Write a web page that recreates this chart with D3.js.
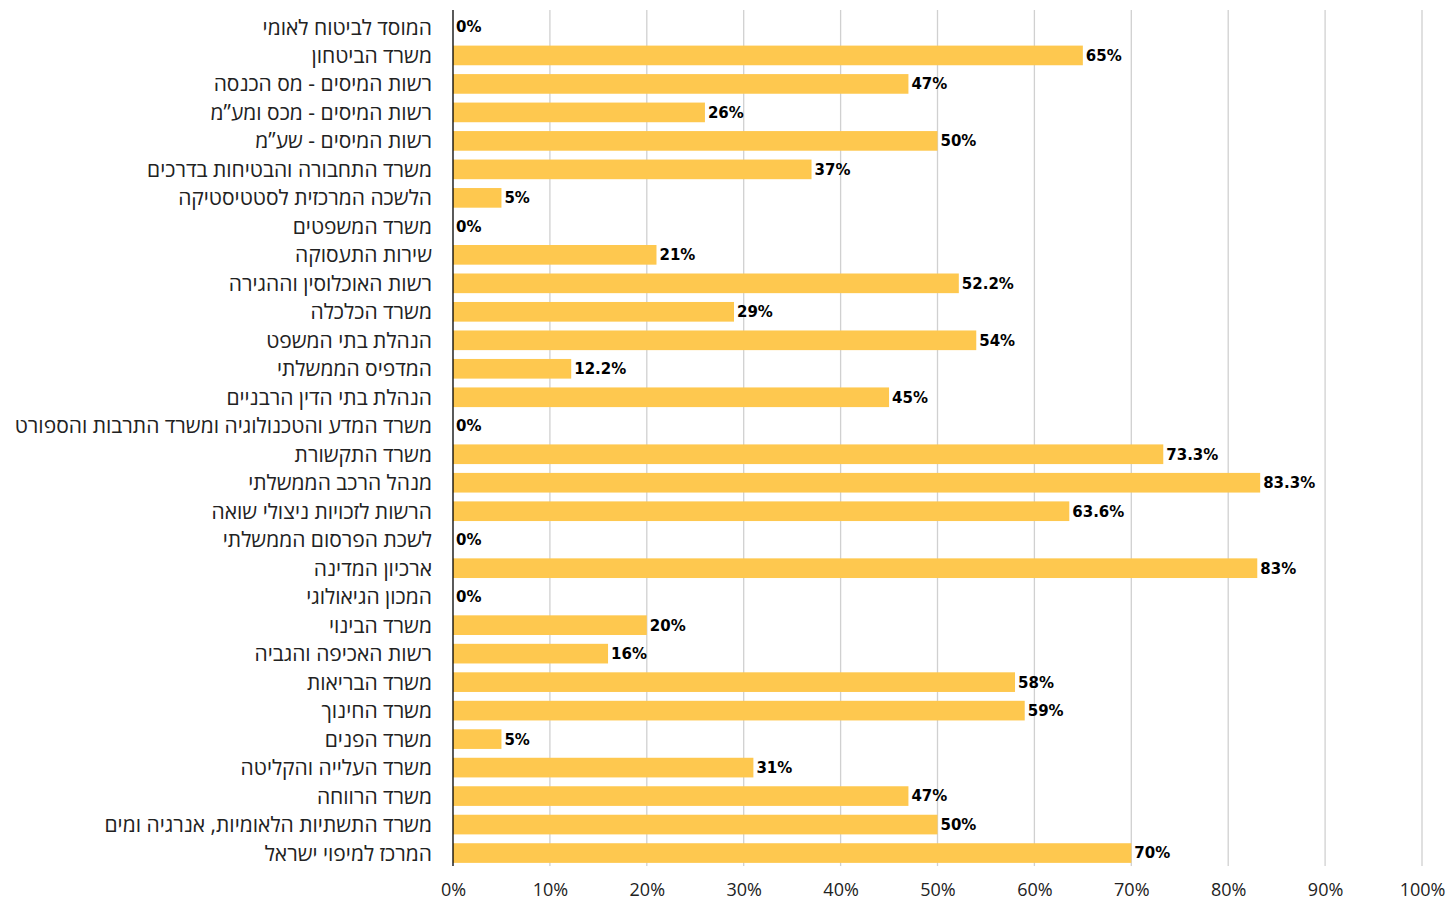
<!DOCTYPE html>
<html><head><meta charset="utf-8">
<script src="https://cdn.jsdelivr.net/npm/d3@7"></script>
<style>body{margin:0;background:#fff}</style>
</head><body><svg id="c" width="1449" height="901"></svg>
<script>
const categories = ["המוסד לביטוח לאומי","משרד הביטחון","רשות המיסים - מס הכנסה","רשות המיסים - מכס ומע”מ","רשות המיסים - שע”מ","משרד התחבורה והבטיחות בדרכים","הלשכה המרכזית לסטטיסטיקה","משרד המשפטים","שירות התעסוקה","רשות האוכלוסין וההגירה","משרד הכלכלה","הנהלת בתי המשפט","המדפיס הממשלתי","הנהלת בתי הדין הרבניים","משרד המדע והטכנולוגיה ומשרד התרבות והספורט","משרד התקשורת","מנהל הרכב הממשלתי","הרשות לזכויות ניצולי שואה","לשכת הפרסום הממשלתי","ארכיון המדינה","המכון הגיאולוגי","משרד הבינוי","רשות האכיפה והגביה","משרד הבריאות","משרד החינוך","משרד הפנים","משרד העלייה והקליטה","משרד הרווחה","משרד התשתיות הלאומיות, אנרגיה ומים","המרכז למיפוי ישראל"];
const values = [0,65,47,26,50,37,5,0,21,52.2,29,54,12.2,45,0,73.3,83.3,63.6,0,83,0,20,16,58,59,5,31,47,50,70];
const valueLabels = ["0%","65%","47%","26%","50%","37%","5%","0%","21%","52.2%","29%","54%","12.2%","45%","0%","73.3%","83.3%","63.6%","0%","83%","0%","20%","16%","58%","59%","5%","31%","47%","50%","70%"];
const ticks = [0,10,20,30,40,50,60,70,80,90,100];

const svg = d3.select("#c");
const x = d3.scaleLinear().domain([0,100]).range([453,1422]);
const y = d3.scaleBand().domain(categories).range([12.7,867.3]).paddingInner(0.31).paddingOuter(0.155);

svg.append("g").selectAll("line").data(ticks.slice(1)).join("line")
  .attr("x1",d=>x(d)).attr("x2",d=>x(d)).attr("y1",10).attr("y2",866)
  .attr("stroke","#d0d0d0").attr("stroke-width",1.3);

svg.append("g").selectAll("rect").data(values).join("rect")
  .attr("x",x(0)).attr("y",(d,i)=>y(categories[i]))
  .attr("width",d=>x(d)-x(0)).attr("height",y.bandwidth())
  .attr("fill","#FEC84F");

svg.append("line").attr("x1",x(0)).attr("x2",x(0)).attr("y1",10).attr("y2",866)
  .attr("stroke","#000").attr("stroke-width",1.3);

svg.append("g").selectAll("text").data(values).join("text")
  .attr("x",d=>x(d)+3).attr("y",(d,i)=>y(categories[i])+y.bandwidth()/2)
  .attr("dy","0.36em")
  .attr("font-family","DejaVu Sans").attr("font-weight","bold").attr("font-size",15).attr("fill","#000")
  .text((d,i)=>valueLabels[i]);

svg.append("g").selectAll("text").data(categories).join("text")
  .attr("x",432).attr("y",d=>y(d)+y.bandwidth()/2).attr("dy","0.36em")
  .attr("text-anchor","end")
  .attr("font-family","Open Sans").attr("font-size",21).attr("fill","#222")
  .text(d=>d);

const xAxis = d3.axisBottom(x).tickValues(ticks).tickFormat(d=>d+"%").tickSize(0).tickPadding(0);
const ga = svg.append("g").attr("transform","translate(0,883)").call(xAxis);
ga.select(".domain").remove();
ga.selectAll("text").attr("font-family","Open Sans").attr("font-size",18).attr("fill","#222").attr("dy","0.71em").attr("y",0);
</script></body></html>
